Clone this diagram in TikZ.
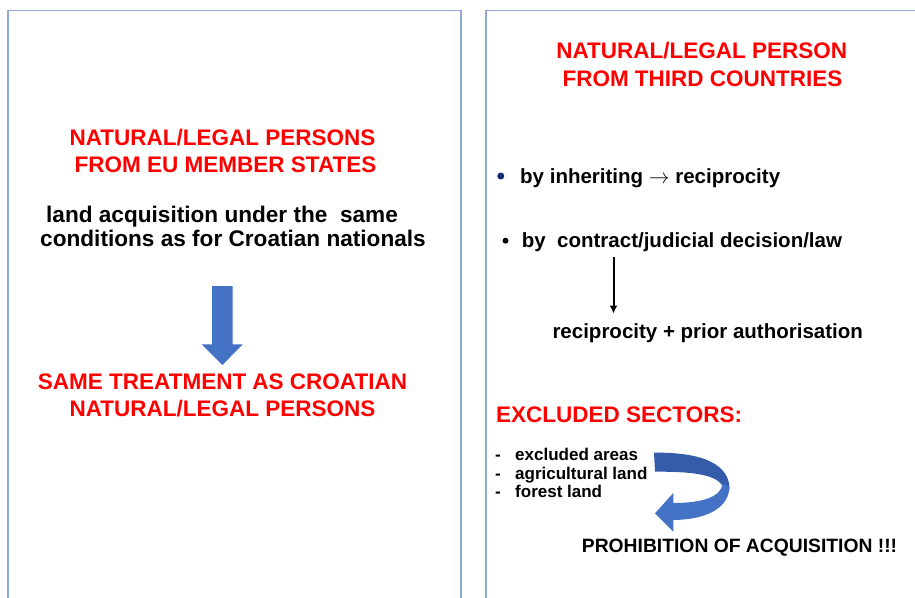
\documentclass[tikz,border=0pt]{standalone}
\usepackage{fontspec}
\setmainfont{Liberation Sans}
\usetikzlibrary{arrows.meta}
\definecolor{panelc}{RGB}{143,168,214}
\definecolor{arrowblue}{RGB}{68,114,196}
\definecolor{arrowdark}{RGB}{52,92,168}
\definecolor{bulletblue}{RGB}{20,40,110}
\tikzset{
  panel/.style={draw=panelc, line width=1.6pt},
  redhead/.style={text=red, font=\fontsize{22.5}{26}\selectfont\bfseries, inner sep=0pt, anchor=base},
  blackbig/.style={text=black, font=\fontsize{22.6}{26}\selectfont\bfseries, inner sep=0pt, anchor=base},
  blackmid/.style={text=black, font=\fontsize{20.5}{24}\selectfont\bfseries, inner sep=0pt, anchor=base west},
  blacksmall/.style={text=black, font=\fontsize{17}{20}\selectfont\bfseries, inner sep=0pt, anchor=base west},
  blackprohib/.style={text=black, font=\fontsize{19.3}{22}\selectfont\bfseries, inner sep=0pt, anchor=base west},
  dotmark/.style={circle, inner sep=0pt, minimum size=#1},
}
\begin{document}
\begin{tikzpicture}[x=1pt,y=-1pt]
\useasboundingbox (0,0) rectangle (915,597);
\clip (0,0) rectangle (915,597);
\fill[white] (0,0) rectangle (915,597);
% panels
\draw[panel] (8,10.5) rectangle (460.7,640);
\draw[panel] (485.7,10.5) rectangle (940,640);

% left panel
\node[redhead] (l1) at (222.5,145) {NATURAL/LEGAL PERSONS};
\node[redhead] (l2) at (225.5,172) {FROM EU MEMBER STATES};
\node[blackbig] (l3) at (222,222) {land acquisition under the\ \ same};
\node[blackbig] (l4) at (233,246.5) {conditions as for Croatian nationals};
\fill[arrowblue] (212,286) -- (232.7,286) -- (232.7,344.3) -- (242.7,344.3) -- (222.4,365) -- (201.7,344.3) -- (212,344.3) -- cycle;
\node[redhead] (l5) at (222.5,389) {SAME TREATMENT AS CROATIAN};
\node[redhead] (l6) at (222.5,416.5) {NATURAL/LEGAL PERSONS};

% right panel
\node[redhead] (r1) at (701.7,58) {NATURAL/LEGAL PERSON};
\node[redhead] (r2) at (702.5,86) {FROM THIRD COUNTRIES};
\node[dotmark=7pt, fill=bulletblue] (b1) at (500.8,176) {};
\node[blackmid] (r3) at (520,183) {by inheriting $\rightarrow$ reciprocity};
\node[dotmark=6pt, fill=black] (b2) at (505.5,240.7) {};
\node[blackmid] (r4) at (521.7,247) {by\ \ contract/judicial decision/law};
\coordinate (va) at (613.5,257);
\coordinate (vb) at (613.5,313.5);
\draw[line width=2pt, -{Latex[length=8pt,width=8pt]}] (va) -- (vb);
\node[blackmid] (r5) at (552.3,338) {reciprocity + prior authorisation};
\node[redhead, anchor=base west] (r6) at (496,422) {EXCLUDED SECTORS:};
\node[blacksmall] (d1) at (495,460) {-};
\node[blacksmall] (d2) at (495,479.3) {-};
\node[blacksmall] (d3) at (495,497.3) {-};
\node[blacksmall] (e1) at (515,460) {excluded areas};
\node[blacksmall] (e2) at (515,479.3) {agricultural land};
\node[blacksmall] (e3) at (515,497.3) {forest land};
% curved arrow (ribbon)
\fill[arrowdark] (654,452.7) .. controls (706,452) and (729.5,466) .. (729.5,489)
  -- (722.5,486) .. controls (716,474) and (690,471.5) .. (655,471.7) -- cycle;
\fill[arrowblue] (729.5,486) .. controls (729.5,506) and (710,519.5) .. (673.3,520)
  -- (673.3,531.7) -- (655,513.3) -- (673.3,493) -- (673.3,503)
  .. controls (702,503) and (721,497) .. (722.5,484) -- cycle;
\node[blackprohib] (p1) at (581.7,552.7) {PROHIBITION OF ACQUISITION !!!};
\end{tikzpicture}
\end{document}
